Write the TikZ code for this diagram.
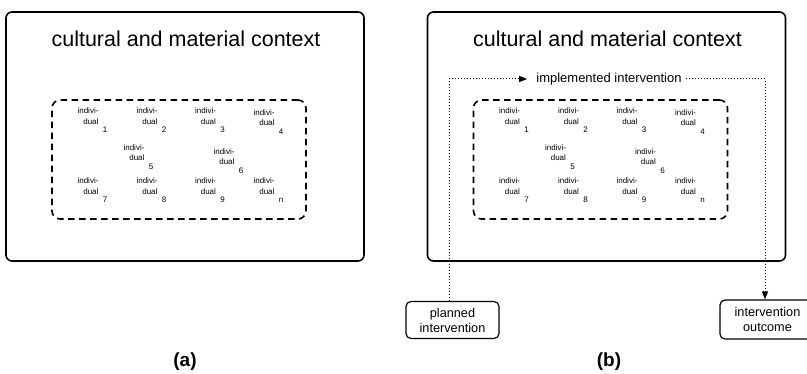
\documentclass[tikz,border=0pt]{standalone}
\usepackage{fontspec}
\setmainfont{Liberation Sans}
\usetikzlibrary{arrows.meta}
\newcommand{\indiv}[4]{%
  \node[ind] (#1) at (#2,#3) {indivi-\\dual\rlap{\raisebox{-8.7pt}{\hspace{4.5pt}#4}}};}
\tikzset{
  outer/.style={draw, line width=1.6pt, rounded corners=6pt, minimum width=358pt, minimum height=249pt, inner sep=0pt},
  group/.style={draw, line width=1.6pt, dash pattern=on 6.5pt off 4.5pt, rounded corners=8pt, minimum width=254pt, minimum height=119pt, inner sep=0pt},
  ind/.style={align=right, inner sep=0pt, font=\fontsize{8}{10.5}\selectfont},
  title/.style={anchor=base, inner sep=0pt, font=\fontsize{21.5}{26}\selectfont},
  lbl/.style={draw, line width=1.2pt, rounded corners=5pt, align=center, inner sep=0pt, font=\fontsize{12.7}{15}\selectfont},
  flow/.style={dotted, line width=1pt},
  tip/.style={-{Triangle[length=8pt,width=6pt]}},
  panelcap/.style={font=\fontsize{19}{22}\bfseries\selectfont, inner sep=0pt},
}
\begin{document}
\begin{tikzpicture}[x=1pt,y=-1pt]
\useasboundingbox (0,0) rectangle (807,374);
% panel (a)
\node[outer] (ctxA) at (185,136.5) {};
\node[title] (titA) at (186,46.7) {cultural and material context};
\node[group] (grpA) at (179,159.5) {};
\indiv{a1}{88}{120.3}{1}
\indiv{a2}{147}{120.3}{2}
\indiv{a3}{205.5}{120.3}{3}
\indiv{a4}{264}{122}{4}
\indiv{a5}{134}{157}{5}
\indiv{a6}{224}{161}{6}
\indiv{a7}{88}{190.3}{7}
\indiv{a8}{147}{190.3}{8}
\indiv{a9}{205.5}{190.3}{9}
\indiv{an}{264}{190.3}{n}
\node[panelcap] (capA) at (185,361.5) {(a)};
% panel (b)
\node[outer] (ctxB) at (606.5,136.5) {};
\node[title] (titB) at (607.5,46.7) {cultural and material context};
\node[group] (grpB) at (600.5,159.5) {};
\indiv{b1}{509.5}{120.3}{1}
\indiv{b2}{568.5}{120.3}{2}
\indiv{b3}{627}{120.3}{3}
\indiv{b4}{685.5}{122}{4}
\indiv{b5}{555.5}{157}{5}
\indiv{b6}{645.5}{161}{6}
\indiv{b7}{509.5}{190.3}{7}
\indiv{b8}{568.5}{190.3}{8}
\indiv{b9}{627}{190.3}{9}
\indiv{bn}{685.5}{190.3}{n}
\node[font=\fontsize{13}{15}\selectfont, inner xsep=4pt] (impl) at (609,79) {implemented intervention};
\node[lbl, minimum width=93pt, minimum height=37pt] (plan) at (452.5,320) {planned\\intervention};
\node[lbl, minimum width=95pt, minimum height=39pt] (outc) at (767.5,319.5) {intervention\\outcome};
\draw[flow, tip, shorten >=5pt] ([xshift=-3.5pt]plan.north) |- (impl.west);
\draw[flow, tip] (impl.east) -| ([xshift=-2.5pt]outc.north);
\node[panelcap] (capB) at (609,361.5) {(b)};
\end{tikzpicture}
\end{document}
